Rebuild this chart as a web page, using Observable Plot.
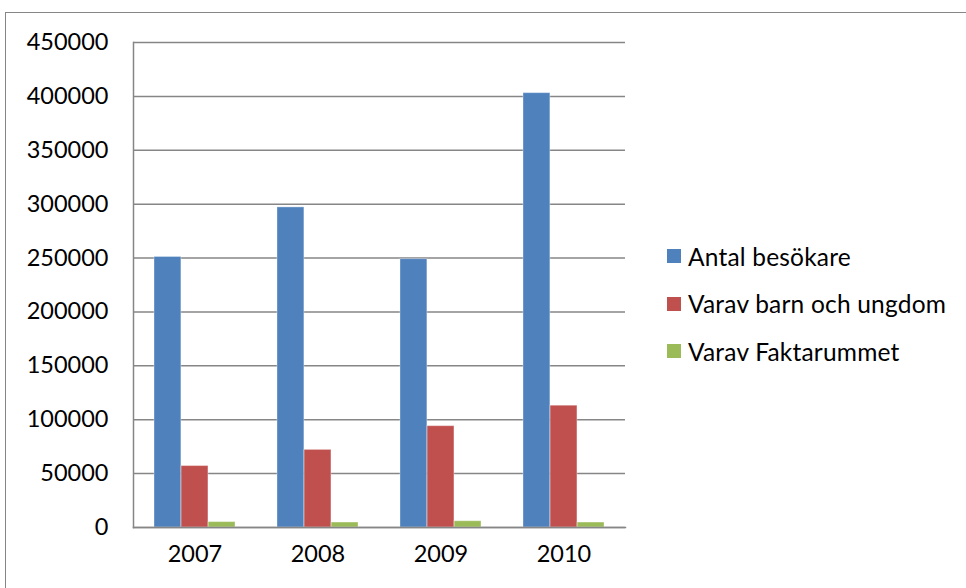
<!DOCTYPE html>
<html><head><meta charset="utf-8">
<script src="https://cdn.jsdelivr.net/npm/d3@7"></script>
<script src="https://cdn.jsdelivr.net/npm/@observablehq/plot@0.6"></script>
<style>
html,body{margin:0;padding:0;background:#fff;overflow:hidden;}
#wrap{position:relative;width:966px;height:588px;font-family:Lato,"Open Sans",sans-serif;color:#000;}
#border{position:absolute;left:5px;top:12px;width:962px;height:620px;border:1.5px solid #868686;box-sizing:border-box;pointer-events:none;}
#chart{position:absolute;left:0;top:0;}
.item{position:absolute;left:667px;display:flex;align-items:center;font-size:24.5px;letter-spacing:0.2px;white-space:nowrap;}
.sw{width:14px;height:14px;margin-right:7px;}
</style>
</head><body>
<div id="wrap"><div id="chart"></div><div id="legend"></div><div id="border"></div></div>
<script>
const years = ["2007", "2008", "2009", "2010"];
const series = ["Antal besökare", "Varav barn och ungdom", "Varav Faktarummet"];
const antalBesokare = [251000, 297000, 249000, 403000];
const varavBarn = [57000, 72000, 94000, 113000];
const varavFakta = [5000, 4600, 5800, 4600];
const colors = ["#4F81BD", "#C0504D", "#9BBB59"];
const yTicks = [0, 50000, 100000, 150000, 200000, 250000, 300000, 350000, 400000, 450000];

const values = [antalBesokare, varavBarn, varavFakta];

const W = 966, H = 588, mL = 133, mR = 341, mT = 42, mB = 61;
const padIn = 0.34, padOut = 0.17;
const step = (W - mL - mR) / (years.length - padIn + 2 * padOut);
const bw = step * (1 - padIn);
const third = bw / series.length;

const barMarks = series.map((s, i) => {
  const rows = years.map((y, j) => ({year: y, value: values[i][j], series: s}));
  return Plot.barY(rows, {
    x: "year", y: "value", fill: colors[i],
    insetLeft: i * third, insetRight: (series.length - 1 - i) * third,
    stroke: "#ffffff", strokeOpacity: 0.35, strokeWidth: 1
  });
});

const chart = Plot.plot({
  width: W, height: H,
  marginLeft: mL, marginRight: mR, marginTop: mT, marginBottom: mB,
  style: {fontSize: "23.5px", fontFamily: "Lato, 'Open Sans', sans-serif", color: "#000", background: "transparent"},
  x: {domain: years, paddingInner: padIn, paddingOuter: padOut, label: null, tickSize: 0, tickPadding: 18},
  y: {domain: [0, 450000], ticks: yTicks, label: null, tickSize: 0, tickPadding: 25, tickFormat: d => String(d)},
  marks: [
    Plot.gridY(yTicks, {stroke: "#868686", strokeOpacity: 1, strokeWidth: 1.5}),
    ...barMarks,
    Plot.frame({anchor: "left", stroke: "#868686", strokeWidth: 1.5}),
    Plot.frame({anchor: "bottom", stroke: "#868686", strokeWidth: 1.5})
  ]
});
document.getElementById("chart").appendChild(chart);

const centers = [256, 303.5, 351];
const legend = document.getElementById("legend");
series.forEach((s, i) => {
  const it = document.createElement("div");
  it.className = "item";
  it.style.top = (centers[i] - 15) + "px";
  it.style.height = "30px";
  const sw = document.createElement("div");
  sw.className = "sw";
  sw.style.background = colors[i];
  const tx = document.createElement("span");
  tx.textContent = s;
  it.appendChild(sw); it.appendChild(tx);
  legend.appendChild(it);
});
</script>
</body></html>
